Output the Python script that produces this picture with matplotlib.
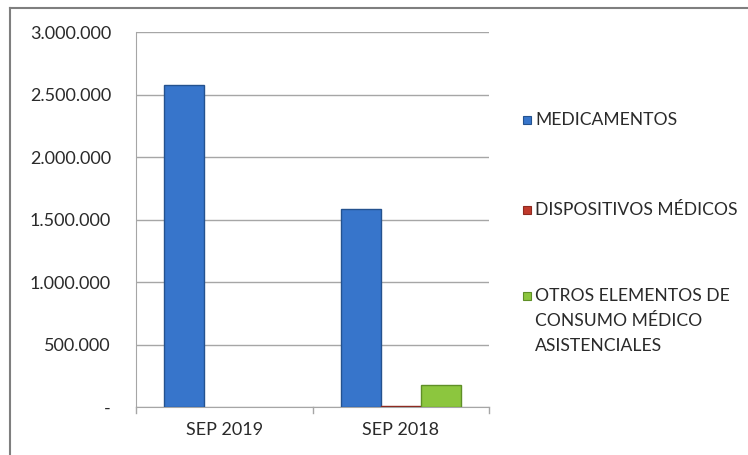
import matplotlib
matplotlib.use("Agg")
import matplotlib.pyplot as plt
from matplotlib.patches import Rectangle
from matplotlib.lines import Line2D
import numpy as np

categories = ["SEP 2019", "SEP 2018"]
series_names = ["MEDICAMENTOS", "DISPOSITIVOS MÉDICOS",
                "OTROS ELEMENTOS DE\nCONSUMO MÉDICO\nASISTENCIALES"]
medicamentos = [2580000, 1585000]
dispositivos = [0, 10000]
otros = [0, 175000]
yticks = [0, 500000, 1000000, 1500000, 2000000, 2500000, 3000000]
ytick_labels = ["-", "500.000", "1.000.000", "1.500.000", "2.000.000", "2.500.000", "3.000.000"]

face = ["#3775CB", "#C0392B", "#8CC63E"]
edge = ["#24528F", "#8E2A20", "#5F8F27"]

plt.rcParams['font.family'] = ['Lato', 'DejaVu Sans']

W, H = 748, 455
fig = plt.figure(figsize=(W / 100, H / 100), dpi=100)
ax = fig.add_axes([136 / W, 1 - 407 / H, (489 - 136) / W, (407 - 32) / H])

x = np.arange(len(categories))
bw = 0.227
for i, vals in enumerate([medicamentos, dispositivos, otros]):
    lws = [1.0 if v > 0 else 0.0 for v in vals]
    ax.bar(x + (i - 1) * bw, vals, width=bw, color=face[i], edgecolor=edge[i],
           linewidth=lws, zorder=3)

ax.set_xlim(-0.5, 1.5)
ax.set_ylim(0, 3000000)
ax.set_yticks(yticks)
ax.set_yticklabels(ytick_labels, fontsize=13, color="#2A2A2A")
ax.set_xticks(x)
ax.set_xticklabels(categories, fontsize=13, color="#2A2A2A")
ax.tick_params(axis='x', length=0, pad=11)
ax.tick_params(axis='y', length=0, pad=18)
ax.yaxis.grid(True, color="#A6A6A6", linewidth=1.0, zorder=0)
for s in ["top", "right"]:
    ax.spines[s].set_visible(False)
ax.spines["left"].set_color("#A6A6A6")
ax.spines["bottom"].set_color("#A6A6A6")
# category boundary ticks
for bx in [-0.5, 0.5, 1.5]:
    ax.plot([bx, bx], [0, -0.015], transform=ax.get_xaxis_transform(), color="#A6A6A6",
            clip_on=False, linewidth=1.0)

# legend (manual)
leg_y = [120, 210, 296]
for i, name in enumerate(series_names):
    y = 1 - leg_y[i] / H
    fig.patches.append(Rectangle((523 / W, y - 4 / H), 8 / W, 8 / H, transform=fig.transFigure,
                                 facecolor=face[i], edgecolor=edge[i], linewidth=0.8))
    fig.text(535 / W, y + 8 / H, name, fontsize=12.6, color="#2A2A2A", va="top", ha="left",
             linespacing=1.68)

# outer border (top and left)
fig.add_artist(Line2D([10 / W, 1], [1 - 7.5 / H, 1 - 7.5 / H], transform=fig.transFigure,
                      color="#7F7F7F", linewidth=1.5))
fig.add_artist(Line2D([10 / W, 10 / W], [0, 1 - 7.5 / H], transform=fig.transFigure,
                      color="#7F7F7F", linewidth=1.5))

fig.savefig("out.png", dpi=100)
